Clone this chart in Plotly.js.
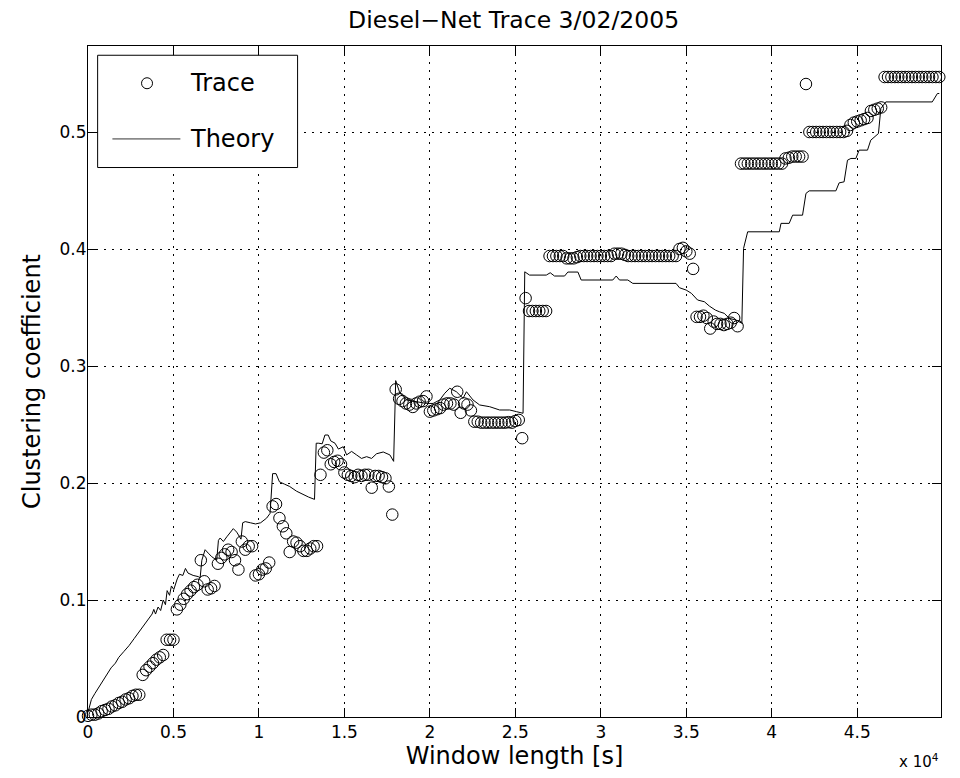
<!DOCTYPE html>
<html>
<head>
<meta charset="utf-8">
<script src="https://cdn.plot.ly/plotly-3.0.1.min.js"></script>
<style>
  html, body { margin: 0; padding: 0; background: #ffffff; }
  #chart { width: 960px; height: 778px; }
</style>
</head>
<body>
<div id="chart"></div>
<script>
// Measured clustering coefficient, sampled every 200 s of window length
const traceStart = 0;
const traceStep = 200;
const traceCoeff = [
  0.001, 0.002, 0.002, 0.003, 0.005,
  0.006, 0.007, 0.009, 0.010, 0.012,
  0.013, 0.015, 0.016, 0.018, 0.019,
  0.019, 0.036, 0.040, 0.043, 0.046,
  0.049, 0.051, 0.053, 0.066, 0.066,
  0.066, 0.092, 0.096, 0.101, 0.105,
  0.108, 0.111, 0.113, 0.134, 0.116,
  0.109, 0.110, 0.112, 0.131, 0.136,
  0.139, 0.143, 0.141, 0.134, 0.126,
  0.150, 0.143, 0.146, 0.146, 0.121,
  0.122, 0.126, 0.127, 0.132, 0.180,
  0.182, 0.170, 0.163, 0.157, 0.141,
  0.150, 0.149, 0.146, 0.142, 0.142,
  0.144, 0.146, 0.146, 0.207, 0.226,
  0.228, 0.216, 0.218, 0.219, 0.216,
  0.209, 0.207, 0.206, 0.205, 0.207,
  0.206, 0.207, 0.207, 0.196, 0.206,
  0.206, 0.205, 0.204, 0.197, 0.173,
  0.280, 0.272, 0.270, 0.268, 0.267,
  0.265, 0.268, 0.2695, 0.270, 0.274,
  0.261, 0.262, 0.263, 0.264, 0.267,
  0.268, 0.268, 0.267, 0.278, 0.260,
  0.268, 0.267, 0.262, 0.2524, 0.2524,
  0.2516, 0.2516, 0.2516, 0.2516, 0.2516,
  0.2516, 0.2516, 0.2516, 0.252, 0.2516,
  0.253, 0.2539, 0.2383, 0.358, 0.347,
  0.347, 0.347, 0.347, 0.347, 0.347,
  0.394, 0.394, 0.394, 0.394, 0.394,
  0.392, 0.392, 0.392, 0.393, 0.394,
  0.394, 0.394, 0.394, 0.394, 0.394,
  0.394, 0.394, 0.394, 0.394, 0.396,
  0.396, 0.396, 0.395, 0.394, 0.394,
  0.394, 0.394, 0.394, 0.394, 0.394,
  0.394, 0.394, 0.394, 0.394, 0.394,
  0.394, 0.394, 0.394, 0.400, 0.401,
  0.398, 0.396, 0.383, 0.342, 0.342,
  0.343, 0.341, 0.332, 0.338, 0.336,
  0.336, 0.335, 0.336, 0.337, 0.341,
  0.334, 0.473, 0.473, 0.473, 0.473,
  0.473, 0.473, 0.473, 0.473, 0.473,
  0.473, 0.473, 0.473, 0.473, 0.4774,
  0.478, 0.479, 0.479, 0.479, 0.479,
  0.541, 0.500, 0.500, 0.500, 0.500,
  0.500, 0.500, 0.500, 0.500, 0.500,
  0.500, 0.500, 0.501, 0.506, 0.508,
  0.509, 0.510, 0.511, 0.512, 0.518,
  0.519, 0.520, 0.521, 0.547, 0.547,
  0.547, 0.547, 0.547, 0.547, 0.547,
  0.547, 0.547, 0.547, 0.547, 0.547,
  0.547, 0.547, 0.547, 0.547, 0.547
];

// Theoretical prediction: window length [s] and clustering coefficient
const theoryWindow = [
  0, 200, 400, 650, 850, 1100, 1350, 1600, 1800, 2100,
  2400, 2700, 2900, 3100, 3300, 3450, 3600, 3750, 3850, 3950,
  4100, 4250, 4400, 4530, 4630, 4770, 4880, 5020, 5220, 5350,
  5550, 5700, 5850, 6150, 6450, 6560, 6660, 6850, 7040, 7240,
  7530, 7630, 7730, 7920, 8120, 8310, 8500, 8700, 8950, 9050,
  9200, 9500, 9800, 10100, 10450, 10650, 10800, 11000, 11200, 11500,
  11800, 12200, 12600, 12900, 13250, 13350, 13500, 13700, 13860, 14050,
  14200, 14450, 14650, 14930, 15130, 15420, 15710, 16000, 16300, 16590,
  16880, 17270, 17660, 17880, 18000, 18240, 18630, 19220, 19800, 20190,
  20580, 20870, 21160, 21550, 21940, 22140, 22520, 22910, 23500, 24080,
  24670, 25060, 25450, 25550, 25640, 25830, 26810, 27040, 27290, 27880,
  28070, 28660, 28850, 30700, 30900, 31090, 31580, 31870, 34400, 34600,
  34990, 35300, 35660, 36060, 36350, 36700, 36930, 37220, 37520, 37910,
  38250, 38350, 38590, 40440, 40540, 41020, 41220, 41800, 42000, 42190,
  43750, 43940, 44230, 44430, 44630, 44920, 45110, 45600, 45790, 46090,
  46240, 46380, 46670, 49390, 49690, 49800
];
const theoryCoeff = [
  0.004, 0.015, 0.020, 0.026, 0.031, 0.036, 0.042, 0.046, 0.051, 0.056,
  0.061, 0.067, 0.071, 0.075, 0.078, 0.082, 0.085, 0.088, 0.092, 0.088,
  0.094, 0.091, 0.100, 0.096, 0.108, 0.104, 0.112, 0.109, 0.118, 0.122,
  0.121, 0.127, 0.123, 0.121, 0.120, 0.119, 0.134, 0.143, 0.140, 0.137,
  0.134, 0.151, 0.153, 0.150, 0.154, 0.158, 0.161, 0.158, 0.152, 0.166,
  0.167, 0.166, 0.165, 0.166, 0.170, 0.174, 0.208, 0.208, 0.201, 0.199,
  0.197, 0.193, 0.190, 0.188, 0.186, 0.234, 0.234, 0.2335, 0.241, 0.241,
  0.236, 0.234, 0.229, 0.231, 0.224, 0.227, 0.224, 0.221, 0.2225, 0.221,
  0.225, 0.2265, 0.224, 0.2185, 0.2875, 0.277, 0.271, 0.2695, 0.268, 0.268,
  0.271, 0.2767, 0.281, 0.278, 0.2724, 0.278, 0.271, 0.2667, 0.2652, 0.2624,
  0.2624, 0.261, 0.2596, 0.3805, 0.3797, 0.3777, 0.3777, 0.3797, 0.3769, 0.3769,
  0.3803, 0.3803, 0.3735, 0.3735, 0.3769, 0.3735, 0.3735, 0.3706, 0.3706, 0.3669,
  0.3649, 0.3621, 0.3564, 0.3549, 0.3512, 0.3478, 0.3464, 0.345, 0.3407, 0.3393,
  0.3365, 0.4005, 0.4147, 0.4147, 0.4219, 0.4219, 0.4289, 0.4289, 0.4475, 0.4497,
  0.4497, 0.4565, 0.4574, 0.4759, 0.4774, 0.4774, 0.4845, 0.4845, 0.493, 0.4973,
  0.4987, 0.520, 0.5257, 0.5257, 0.5329, 0.5329
];

const seriesNames = ['Trace', 'Theory'];
const xTickVals = [0, 5000, 10000, 15000, 20000, 25000, 30000, 35000, 40000, 45000];
const xTickText = ['0', '0.5', '1', '1.5', '2', '2.5', '3', '3.5', '4', '4.5'];
const yTickVals = [0, 0.1, 0.2, 0.3, 0.4, 0.5];
const yTickText = ['0', '0.1', '0.2', '0.3', '0.4', '0.5'];

const FONT = '"DejaVu Sans", "Liberation Sans", Arial, sans-serif';
const INK = '#000000';

const traces = [
  {
    type: 'scatter',
    mode: 'markers',
    name: seriesNames[0],
    x0: traceStart,
    dx: traceStep,
    y: traceCoeff,
    marker: { symbol: 'circle-open', size: 11.5, color: INK, line: { width: 1, color: INK } },
    cliponaxis: false,
    showlegend: false
  },
  {
    type: 'scatter',
    mode: 'lines',
    name: seriesNames[1],
    x: theoryWindow,
    y: theoryCoeff,
    line: { color: INK, width: 1 },
    showlegend: false
  }
];

const axisCommon = {
  showline: true,
  linecolor: INK,
  linewidth: 1,
  mirror: 'ticks',
  ticks: 'inside',
  ticklen: 9,
  tickwidth: 1,
  tickcolor: INK,
  showgrid: true,
  gridcolor: INK,
  gridwidth: 1,
  griddash: '1.5px,6.5px',
  zeroline: false,
  tickfont: { family: FONT, size: 17, color: INK }
};

// Legend box drawn in paper coordinates (top-left corner of the axes)
const legendShapes = [
  { type: 'rect', xref: 'paper', yref: 'paper', x0: 0.0113, x1: 0.2457, y0: 0.8189, y1: 0.9862,
    line: { color: INK, width: 1 }, fillcolor: '#ffffff', layer: 'above' },
  { type: 'circle', xref: 'paper', yref: 'paper', xsizemode: 'pixel', ysizemode: 'pixel',
    xanchor: 0.0692, yanchor: 0.9445, x0: -5.5, x1: 5.5, y0: -5.5, y1: 5.5,
    line: { color: INK, width: 1 }, layer: 'above' },
  { type: 'line', xref: 'paper', yref: 'paper', x0: 0.0286, x1: 0.1083, y0: 0.8615, y1: 0.8615,
    line: { color: '#333333', width: 1 }, layer: 'above' }
];

const layout = {
  width: 960,
  height: 778,
  margin: { l: 88, r: 19, t: 46, b: 61, pad: 0 },
  paper_bgcolor: '#ffffff',
  plot_bgcolor: '#ffffff',
  font: { family: FONT, color: INK },
  showlegend: false,
  title: {
    text: 'Diesel\u2212Net Trace 3/02/2005',
    font: { family: FONT, size: 23.5, color: INK },
    x: 0.535, xanchor: 'center', y: 0.975, yanchor: 'middle'
  },
  xaxis: Object.assign({}, axisCommon, {
    range: [0, 49900],
    tickmode: 'array',
    tickvals: xTickVals,
    ticktext: xTickText,
    title: { text: 'Window length [s]', font: { family: FONT, size: 24, color: INK }, standoff: 1 }
  }),
  yaxis: Object.assign({}, axisCommon, {
    range: [0, 0.5735],
    tickmode: 'array',
    tickvals: yTickVals,
    ticktext: yTickText,
    ticklabelstandoff: -3,
    title: { text: 'Clustering coefficient', font: { family: FONT, size: 24, color: INK }, standoff: 12 }
  }),
  shapes: legendShapes,
  annotations: [
    { xref: 'paper', yref: 'paper', x: 0.1176, y: 0.9445, xanchor: 'left', yanchor: 'middle',
      text: seriesNames[0], showarrow: false, font: { family: FONT, size: 24, color: INK } },
    { xref: 'paper', yref: 'paper', x: 0.1176, y: 0.8615, xanchor: 'left', yanchor: 'middle',
      text: seriesNames[1], showarrow: false, font: { family: FONT, size: 24, color: INK } },
    { xref: 'paper', yref: 'paper', x: 0.9995, y: -0.066, xanchor: 'right', yanchor: 'middle',
      text: 'x 10<sup>4</sup>', showarrow: false, font: { family: FONT, size: 15, color: INK } }
  ]
};

Plotly.newPlot('chart', traces, layout, { staticPlot: true, displayModeBar: false });
</script>
</body>
</html>
